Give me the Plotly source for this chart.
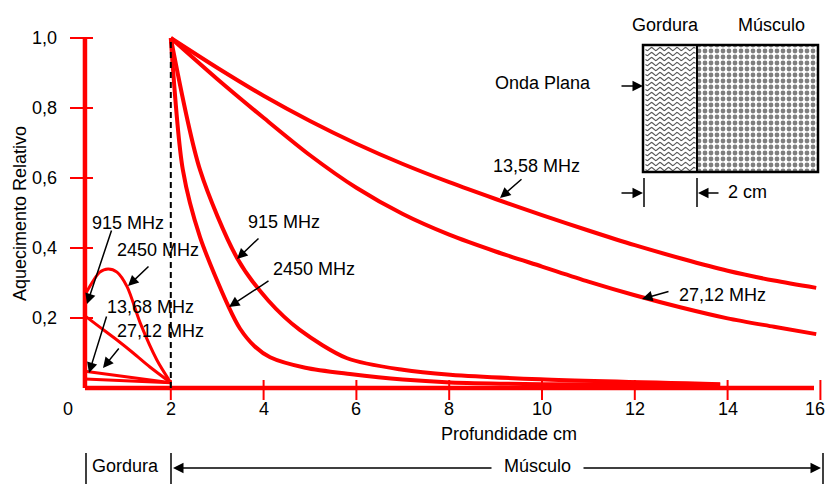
import numpy as np
import plotly.graph_objects as go

OFF = 0
FW, FH = 826, 484
X0PX, XSC = 78.0, 46.4     # screen pixel of x=0, pixels per cm
Y0PX, YSC = 388.0, 350.0   # screen pixel of y=0, pixels per unit

def dx(p):  # screen pixel -> data x (layout helper)
    return (p - X0PX) / XSC

def dy(p):
    return (Y0PX - p) / YSC

def px(p):  # screen pixel -> paper
    return (p - OFF) / FW

def py(p):
    return 1 - (p - OFF) / FH

# ---------------- data ----------------
x_ticks = [0, 2, 4, 6, 8, 10, 12, 14, 16]
x_tick_labels = ["0", "2", "4", "6", "8", "10", "12", "14", "16"]
y_ticks = [0.2, 0.4, 0.6, 0.8, 1.0]
y_tick_labels = ["0,2", "0,4", "0,6", "0,8", "1,0"]

# muscle (x from 2 cm)
mus_1358_x = [2.0, 3.0, 4.0, 5.0, 6.0, 7.0, 8.0, 9.0, 10.0, 11.0, 12.0, 13.0, 14.0, 15.0, 15.91]
mus_1358_y = [1.0, 0.915, 0.835, 0.763, 0.698, 0.64, 0.588, 0.54, 0.494, 0.45, 0.408, 0.37,
              0.335, 0.307, 0.286]
mus_2712_x = [2.0, 3.0, 4.0, 5.0, 6.0, 7.0, 8.0, 9.0, 10.0, 11.0, 12.0, 13.0, 14.0, 15.0, 15.91]
mus_2712_y = [1.0, 0.883, 0.772, 0.665, 0.572, 0.497, 0.438, 0.39, 0.347, 0.304, 0.265, 0.23,
              0.199, 0.175, 0.154]
mus_915_x = [2.0, 2.63, 3.43, 4.1, 4.78, 5.80, 7.0, 8.02, 9.96, 13.84]
mus_915_y = [1.0, 0.623, 0.371, 0.25, 0.166, 0.085, 0.052, 0.038, 0.025, 0.011]
mus_2450_x = [2.0, 2.26, 2.63, 3.25, 3.49, 3.8, 4.14, 4.9, 5.86, 7.0, 8.02, 10.0, 13.84]
mus_2450_y = [1.0, 0.623, 0.431, 0.231, 0.17, 0.12, 0.088, 0.058, 0.04, 0.024, 0.016, 0.011, 0.009]

# fat (x from 0.15 to 2 cm)
fat_2450_x = [0.15, 0.47, 0.65, 0.84, 1.06, 1.34, 1.70, 2.0]
fat_2450_y = [0.266, 0.331, 0.34, 0.331, 0.289, 0.186, 0.08, 0.015]
fat_915_x = [0.15, 0.47, 0.84, 1.19, 1.55, 2.0]
fat_915_y = [0.206, 0.174, 0.137, 0.10, 0.06, 0.015]
fat_1368_x = [0.15, 2.0]
fat_1368_y = [0.048, 0.015]
fat_2712_x = [0.15, 2.0]
fat_2712_y = [0.026, 0.015]

RED = "#FF0000"
FONT = "Liberation Sans, Arial, sans-serif"
FS = 18

fig = go.Figure()

def line(x, y, width, color=RED, dash=None, shape="spline"):
    fig.add_trace(go.Scatter(x=x, y=y, mode="lines", hoverinfo="skip",
                             line=dict(color=color, width=width, dash=dash,
                                       shape=shape, smoothing=0.8),
                             showlegend=False, cliponaxis=False))

# axes lines
line([0.15, 0.15], [0.0, 1.0], 4.5, shape="linear")
line([0.15, dx(814)], [0.0, 0.0], 4.5, shape="linear")

# tick marks
tx, ty = [], []
for v in y_ticks:
    tx += [dx(70), dx(93), None]
    ty += [v, v, None]
line(tx, ty, 2, shape="linear")
tx, ty = [], []
for v in x_ticks[1:]:
    tx += [v, v, None]
    ty += [dy(380), dy(400), None]
line(tx, ty, 2, shape="linear")

# curves
for xs, ys in [(mus_1358_x, mus_1358_y), (mus_2712_x, mus_2712_y),
               (mus_915_x, mus_915_y), (mus_2450_x, mus_2450_y)]:
    line(xs, ys, 4)
for xs, ys in [(fat_2450_x, fat_2450_y), (fat_915_x, fat_915_y),
               (fat_1368_x, fat_1368_y), (fat_2712_x, fat_2712_y)]:
    line(xs, ys, 3)

# dashed interface line
line([2.0, 2.0], [0.0, 1.0], 2, color="black", dash="6px,4px", shape="linear")

# ---------------- inset ----------------
mx0, mx1, my0, my1 = 697, 818, 45, 172
fig.add_trace(go.Bar(x=[(dx(mx0) + dx(mx1)) / 2], y=[dy(my0) - dy(my1)], base=[dy(my1)],
                     width=[dx(mx1) - dx(mx0)], hoverinfo="skip", showlegend=False,
                     marker=dict(color="white", line=dict(width=0),
                                 pattern=dict(shape=".", fgcolor="black", bgcolor="white",
                                              size=6, solidity=0.5))))
wx, wy = [], []
xx = np.linspace(645.5, 695.5, 60)
for r in np.arange(49, 171, 5.0):
    wx += list(dx(xx)) + [None]
    wy += list(dy(r + 1.6 * np.sin(2 * np.pi * (xx - 645) / 8.5))) + [None]
fig.add_trace(go.Scatter(x=wx, y=wy, mode="lines", hoverinfo="skip", showlegend=False,
                         line=dict(color="#555555", width=1.1)))

shapes = [
    dict(type="rect", xref="paper", yref="paper", x0=px(643), x1=px(818), y0=py(45), y1=py(172),
         line=dict(color="black", width=2.5)),
    dict(type="line", xref="paper", yref="paper", x0=px(697), x1=px(697), y0=py(45), y1=py(172),
         line=dict(color="black", width=2)),
    dict(type="line", xref="paper", yref="paper", x0=px(644), x1=px(644), y0=py(178), y1=py(207),
         line=dict(color="black", width=1.5)),
    dict(type="line", xref="paper", yref="paper", x0=px(697), x1=px(697), y0=py(178), y1=py(207),
         line=dict(color="black", width=1.5)),
]
for xb in [86, 171, 823]:
    shapes.append(dict(type="line", xref="paper", yref="paper", x0=px(xb), x1=px(xb),
                       y0=py(453), y1=py(484), line=dict(color="black", width=1.5)))

annotations = []

def text(t, x, y, anchor="center", angle=0):
    annotations.append(dict(text=t, xref="paper", yref="paper", x=px(x), y=py(y),
                            xanchor=anchor, yanchor="middle", showarrow=False, textangle=angle,
                            font=dict(family=FONT, size=FS, color="black")))

def arrow(tail, tip):
    annotations.append(dict(text="", xref="paper", yref="paper", x=px(tip[0]), y=py(tip[1]),
                            ax=tail[0] - tip[0], ay=tail[1] - tip[1], axref="pixel", ayref="pixel",
                            showarrow=True, arrowhead=2, arrowsize=1.4, arrowwidth=1.5,
                            arrowcolor="black", standoff=0, startstandoff=0))

# tick labels (data coords)
for v, t in zip(x_ticks, x_tick_labels):
    if v == 16:
        xv, anc = dx(826), "right"
    elif v == 0:
        xv, anc = dx(68), "center"
    else:
        xv, anc = v, "center"
    annotations.append(dict(text=t, x=xv, y=dy(409), xref="x", yref="y", showarrow=False,
                            xanchor=anc, yanchor="middle", borderpad=0,
                            font=dict(family=FONT, size=FS, color="black")))
for v, t in zip(y_ticks, y_tick_labels):
    annotations.append(dict(text=t, x=dx(59), y=v, xref="x", yref="y", showarrow=False,
                            xanchor="right", yanchor="middle",
                            font=dict(family=FONT, size=FS, color="black")))

text("Profundidade cm", 509, 434)
text("Aquecimento Relativo", 20, 214, angle=-90)

text("13,58 MHz", 536, 166); arrow((523, 178), (500, 198))
text("27,12 MHz", 722, 295); arrow((670, 291), (642, 299))
text("915 MHz", 284, 222); arrow((260, 237), (237, 259))
text("2450 MHz", 314, 269); arrow((270, 280), (229, 307))
text("915 MHz", 128, 223); arrow((112, 229), (87, 304))
text("2450 MHz", 158, 250); arrow((150, 265), (128, 286))
text("13,68 MHz", 150, 307); arrow((107, 315), (89, 373))
text("27,12 MHz", 160, 331); arrow((120, 347), (103, 368))

text("Gordura", 665, 25)
text("Músculo", 771, 25)
text("Onda Plana", 543, 83); arrow((620, 86), (643, 86))
arrow((620, 193), (643, 193)); arrow((720, 193), (698, 193))
text("2 cm", 747, 192)

text("Gordura", 125, 466)
text("Músculo", 537, 466)
arrow((493, 468), (173, 468)); arrow((582, 468), (821, 468))

fig.update_layout(
    width=FW, height=FH, autosize=False,
    margin=dict(l=0, r=0, t=0, b=0),
    paper_bgcolor="white", plot_bgcolor="white",
    xaxis=dict(range=[dx(OFF), dx(OFF + FW)], visible=False, fixedrange=True),
    yaxis=dict(range=[dy(OFF + FH), dy(OFF)], visible=False, fixedrange=True),
    shapes=shapes, annotations=annotations, showlegend=False,
)

fig.write_html("out.html", config={"displayModeBar": False},
               post_script="document.body.style.margin='0';document.body.style.overflow='hidden';")
